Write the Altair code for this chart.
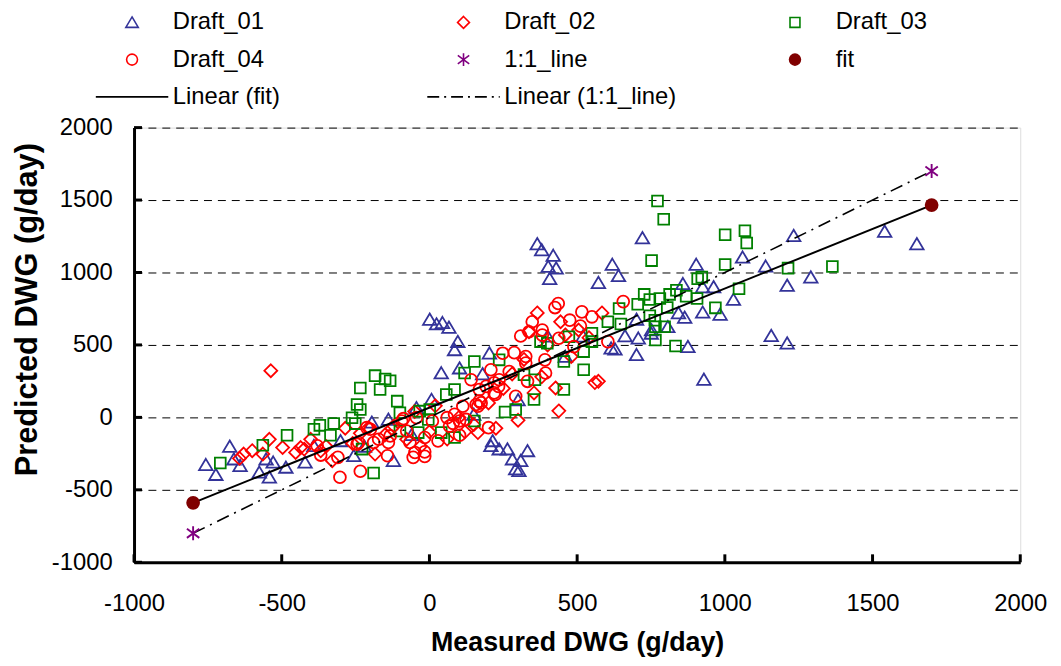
import altair as alt
import pandas as pd

# ---------------- data ----------------
series_names = ["Draft_01", "Draft_02", "Draft_03", "Draft_04", "1:1_line", "fit",
                "Linear (fit)", "Linear (1:1_line)"]

draft_01 = [(-757,-327), (-723,-395), (-676,-201), (-662,-288), (-641,-333), (-576,-379),
            (-553,-288), (-542,-413), (-529,-310), (-486,-345), (-421,-310), (-391,-196),
            (-301,-162), (-256,-265), (-220,-200), (-195,-34), (-139,-14), (-122,-299),
            (-60,-120), (-44,66), (1,676), (24,644), (44,653), (66,621), (96,523), (85,466),
            (7,123), (40,306), (102,340), (150,20), (180,300), (203,443), (214,-162),
            (208,-196), (236,-219), (264,-219), (281,-288), (309,-299), (332,-231),
            (292,-356), (303,-368), (300,120), (365,1197), (380,1156), (419,1117),
            (402,1041), (429,1030), (407,957), (400,560), (460,420), (520,560),
            (572,930), (619,1055), (640,977), (615,477), (628,471), (662,562), (701,676),
            (707,546), (701,432), (721,1238), (751,580), (752,603), (807,625), (843,721),
            (858,922), (864,690), (875,488), (903,1055), (925,900), (925,725), (929,262),
            (962,900), (984,710), (1029,813), (1060,1105), (1138,1043), (1157,564),
            (1211,512), (1211,911), (1233,1254), (1291,968), (1541,1283), (1650,1197)]

draft_02 = [(-643,-283), (-629,-253), (-600,-230), (-564,-253), (-542,-151), (-537,322),
            (-497,-208), (-453,-242), (-436,-208), (-424,-219), (-402,-151), (-368,-231),
            (-350,-200), (-329,-299), (-285,-75), (-260,-180), (-234,-110), (-206,-71),
            (-184,-253), (-150,-120), (-128,-77), (-120,-60), (-77,-151), (-50,40),
            (-30,-200), (0,-100), (20,80), (60,-150), (100,0), (120,-100), (150,-50),
            (164,-105), (200,100), (225,-75), (250,200), (280,300), (300,-20), (320,400),
            (337,591), (354,169), (365,721), (380,280), (400,500), (427,203), (438,45),
            (444,660), (460,569), (480,420), (505,603), (540,550), (560,240), (572,249),
            (584,721)]

draft_03 = [(-708,-315), (-564,-192), (-482,-123), (-391,-82), (-371,-55), (-335,-123),
            (-324,-43), (-262,-2), (-251,-43), (-245,89), (-234,55), (-234,203),
            (-228,-219), (-189,-384), (-184,288), (-167,192), (-150,265), (-133,253),
            (-109,112), (-100,32), (-100,-94), (-38,-105), (-33,43), (-4,-14), (1,55),
            (40,-105), (57,158), (85,192), (85,-139), (119,306), (152,386), (152,-25),
            (236,397), (256,37), (292,55), (320,295), (354,123), (357,260), (376,523),
            (399,512), (455,192), (455,386), (472,557), (522,454), (522,329), (550,580),
            (550,523), (604,660), (642,751), (648,644), (705,781), (727,849), (746,813),
            (746,701), (752,1082), (763,671), (765,625), (765,534), (772,1493), (780,820),
            (793,1368), (796,625), (805,758), (813,849), (833,493), (836,877), (869,836),
            (906,820), (908,957), (922,968), (968,756), (1001,1260), (1001,1055),
            (1048,888), (1068,1288), (1074,1204), (1214,1030), (1364,1041)]

draft_04 = [(-380,-196), (-368,-260), (-310,-276), (-303,-413), (-245,-185), (-240,-173),
            (-234,-372), (-212,-71), (-200,-82), (-189,-173), (-172,-151), (-142,-265),
            (-139,-173), (-133,-128), (-94,-25), (-88,-9), (-77,-94), (-66,-173),
            (-55,-276), (-49,-242), (-44,-2), (-16,-238), (-16,-139), (-16,-269),
            (10,-25), (29,-162), (60,-2), (68,-60), (80,-41), (85,21), (102,-25),
            (102,-123), (113,77), (124,-14), (141,260), (158,89), (164,77), (169,112),
            (169,192), (175,100), (192,214), (200,-71), (208,329), (219,169), (219,238),
            (223,158), (234,214), (236,260), (248,443), (270,317), (287,447), (292,146),
            (309,562), (326,375), (326,420), (332,249), (337,591), (348,660), (382,568),
            (382,603), (391,397), (393,306), (425,758), (436,786), (438,546), (475,671),
            (489,488), (511,630), (516,728), (550,694), (604,523), (656,799)]

one_x = [-800, 1700]
one_y = [-800, 1700]
fit_x = [-800, 1700]
fit_y = [-590, 1465]

x_ticks = [-1000, -500, 0, 500, 1000, 1500, 2000]
y_ticks = [-1000, -500, 0, 500, 1000, 1500, 2000]

# ---------------- tables ----------------
rows = []
for name, pts in [("Draft_01", draft_01), ("Draft_02", draft_02),
                  ("Draft_03", draft_03), ("Draft_04", draft_04)]:
    for x, y in pts:
        rows.append({"x": x, "y": y, "series": name})
points_df = pd.DataFrame(rows)

spec_rows = [{"x": x, "y": y, "series": "1:1_line"} for x, y in zip(one_x, one_y)]
spec_rows += [{"x": x, "y": y, "series": "fit"} for x, y in zip(fit_x, fit_y)]
special_df = pd.DataFrame(spec_rows)

one_df = pd.DataFrame({"x": one_x, "y": one_y})
fit_df = pd.DataFrame({"x": fit_x, "y": fit_y})
xt_df = pd.DataFrame({"x": x_ticks})
yt_df = pd.DataFrame({"y": y_ticks})

# ---------------- styles ----------------
W, H = 893, 438
FONT = "Liberation Sans"


def seg_path(segments, center=36.5, unit=5.0):
    return "".join(f"M{(a - center) / unit:.2f},0L{(b - center) / unit:.2f},0"
                   for a, b in segments)


tri = "M0,-1.1L1.25,1L-1.25,1Z"
dia = "M0,-1.2L1.2,0L0,1.2L-1.2,0Z"
sq = "M-1,-1L1,-1L1,1L-1,1Z"
circ = "M1.1,0A1.1,1.1,0,1,1,-1.1,0A1.1,1.1,0,1,1,1.1,0Z"
ast = "M0,-1.3L0,1.3M-1.15,-0.85L1.15,0.85M-1.15,0.85L1.15,-0.85"
solid_line = seg_path([(0, 73)])
dashdot_line = seg_path([(0, 12), (17, 19), (24, 36), (41, 43), (48, 60), (65, 67), (72, 73)])

shape_range = [tri, dia, sq, circ, ast, circ, solid_line, dashdot_line]
stroke_range = ["#333399", "#FF0000", "#008000", "#FF0000", "#800080", "#800000",
                "#000000", "#000000"]
fill_range = ["transparent", "transparent", "transparent", "transparent", "transparent",
              "#800000", "transparent", "transparent"]

legend = alt.Legend(orient="none", direction="horizontal", legendX=-40, legendY=-118,
                    columns=3, gridAlign="all",
                    columnPadding=79, rowPadding=13.5, labelFontSize=24, labelFont=FONT,
                    labelColor="black", labelLimit=600, labelOffset=29, symbolOffset=26,
                    symbolSize=100, symbolStrokeWidth=1.6, title=None, padding=0)

xs = alt.Scale(domain=[-1000, 2000], nice=False, zero=False)
ys = alt.Scale(domain=[-1000, 2000], nice=False, zero=False)

xaxis = alt.Axis(values=x_ticks, title="Measured DWG (g/day)", grid=False, ticks=False,
                 tickSize=0, domainColor="black", domainWidth=3, labelFontSize=24,
                 labelFont=FONT, labelColor="black", labelPadding=30, labelFlush=False,
                 labelOverlap=False, labelExpr="'' + datum.value",
                 titleFont=FONT, titleFontSize=27,
                 titleFontWeight="bold", titleColor="black", titleY=81,
                 titleBaseline="middle")
yaxis = alt.Axis(values=y_ticks, title="Predicted DWG (g/day)", grid=True,
                 gridColor="black", gridDash=[8, 6], gridWidth=1, gridOpacity=1,
                 ticks=False, tickSize=0, domainColor="black", domainWidth=3,
                 labelFontSize=24, labelFont=FONT, labelColor="black", labelPadding=22,
                 labelFlush=False, labelOverlap=False, labelExpr="'' + datum.value",
                 titleFont=FONT, titleFontSize=31,
                 titleFontWeight="bold", titleColor="black", titleX=-107, titleY=183,
                 titleAlign="center", titleBaseline="middle")

X = alt.X("x:Q", scale=xs, axis=xaxis)
Y = alt.Y("y:Q", scale=ys, axis=yaxis)
enc_series = dict(
    shape=alt.Shape("series:N", scale=alt.Scale(domain=series_names, range=shape_range),
                    legend=legend),
    stroke=alt.Stroke("series:N", scale=alt.Scale(domain=series_names, range=stroke_range),
                      legend=legend),
    fill=alt.Fill("series:N", scale=alt.Scale(domain=series_names, range=fill_range),
                  legend=legend),
)

pts_layer = alt.Chart(points_df).mark_point(size=118, strokeWidth=1.8, opacity=1).encode(
    x=X, y=Y, **enc_series)

fit_line = alt.Chart(fit_df).mark_line(color="black", strokeWidth=2).encode(x=X, y=Y)
one_line = alt.Chart(one_df).mark_line(color="black", strokeWidth=1.6,
                                       strokeDash=[13, 6, 2, 6]).encode(x=X, y=Y)

spec_layer = alt.Chart(special_df).mark_point(size=118, strokeWidth=1.9, opacity=1).encode(
    x=X, y=Y, **enc_series)

xt_layer = alt.Chart(xt_df).mark_rule(color="black", strokeWidth=3).encode(
    x=X, y=alt.value(H), y2=alt.value(H - 8))
yt_layer = alt.Chart(yt_df).mark_rule(color="black", strokeWidth=3).encode(
    y=Y, x=alt.value(0), x2=alt.value(8))

chart = alt.layer(pts_layer, fit_line, one_line, spec_layer, xt_layer, yt_layer).properties(
    width=W, height=H,
    padding={"left": 127, "top": 118, "right": 33, "bottom": 102},
    autosize=alt.AutoSizeParams(type="none"),
).configure_view(stroke=None).configure(font=FONT)

chart.save("out.html", embed_options={"renderer": "svg", "actions": False})
